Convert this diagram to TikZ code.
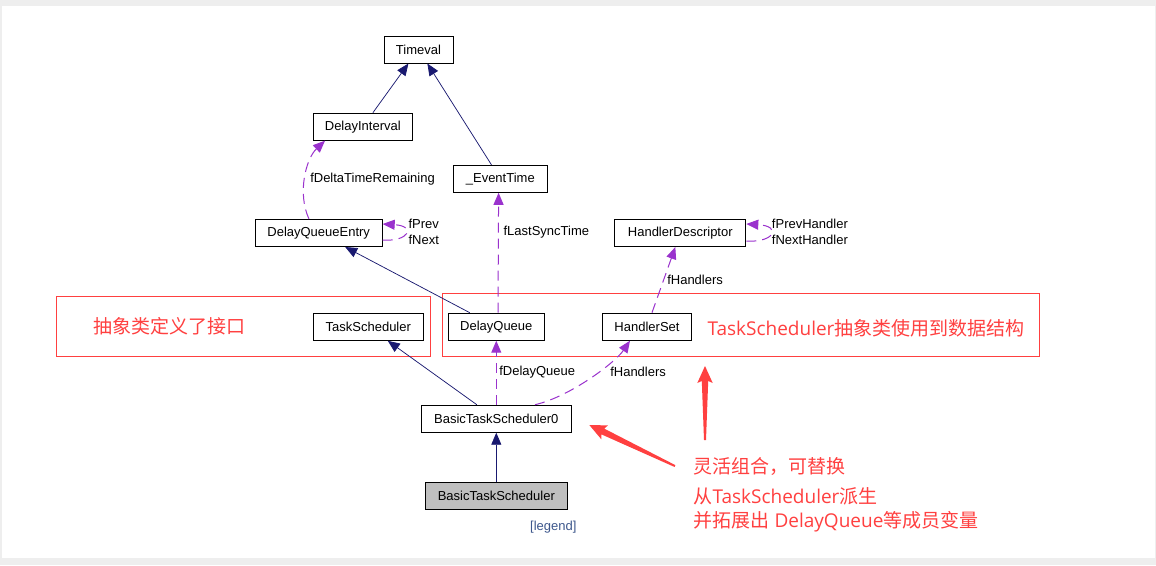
\documentclass[tikz,border=0pt]{standalone}
\usepackage{fontspec}
\setmainfont{Liberation Sans}
\newfontfamily\cjk{Noto Sans CJK SC}
\newfontfamily\latn{Open Sans}
\usetikzlibrary{arrows.meta,calc}
\definecolor{navy}{HTML}{191970}
\definecolor{orchid}{HTML}{9A32CD}
\definecolor{notered}{HTML}{FF4040}
\definecolor{legendc}{HTML}{3D578C}
\definecolor{bgc}{HTML}{EEEEEE}
\newdimen\pxu \pxu=0.75pt

\begin{document}
\begin{tikzpicture}
	[x=0.75pt, y=-0.75pt, font=\fontsize{9.75}{12}\selectfont,
	block/.style={rectangle, draw=black, line width=0.75pt, fill=white, minimum height=27\pxu, inner sep=0pt},
	wd/.style={minimum width=#1\pxu},
	base/.style={draw=navy, line width=0.55pt, -{Triangle[length=9pt, width=7.5pt]}},
	member/.style={draw=orchid, line width=0.75pt, dash pattern=on 7.5pt off 4.5pt, -{Triangle[length=9pt, width=7.5pt]}},
	lbl/.style={anchor=west, inner sep=0pt, align=left},
	note/.style={anchor=west, inner sep=0pt, text=notered, font=\fontsize{14.25}{17}\selectfont},
	frame/.style={draw=notered, line width=0.75pt}];
	\useasboundingbox (0,0) rectangle (1156,565);
	\fill[bgc] (0,0) rectangle (1156,565);
	\fill[white] (2,6) rectangle (1155,558);
	\draw[frame] (56.7,296.7) rectangle (430.3,356);
	\draw[frame] (442.3,293.5) rectangle (1039.3,356.3);

	\node[block, wd=69] (timeval) at (418.5,49.5) {Timeval};
	\node[block, wd=99] (delayinterval) at (362.8,126.7) {DelayInterval};
	\node[block, wd=94] (eventtime) at (500.3,178.8) {\_EventTime};
	\node[block, wd=127] (delayqueueentry) at (318.7,233) {DelayQueueEntry};
	\node[block, wd=131] (handlerdescriptor) at (680.3,233) {HandlerDescriptor};
	\node[block, wd=110] (taskscheduler) at (368.3,326.8) {TaskScheduler};
	\node[block, wd=96] (delayqueue) at (496.3,326.7) {DelayQueue};
	\node[block, wd=89.5] (handlerset) at (647,326.7) {HandlerSet};
	\node[block, wd=150] (basictaskscheduler0) at (496.3,418.7) {BasicTaskScheduler0};
	\node[block, wd=142, fill=gray!50] (basictaskscheduler) at (496.3,496.2) {BasicTaskScheduler};
	\node[text=legendc] (legend) at (553.3,526.7) {[legend]};

	\draw[base] (delayinterval) -- (timeval);
	\draw[base] (eventtime) -- (timeval);
	\draw[base] (delayqueue) -- (delayqueueentry);
	\draw[base] (basictaskscheduler0) -- (taskscheduler);
	\draw[base] (basictaskscheduler) -- (basictaskscheduler0);

	\draw[member] ($(delayqueueentry.north)+(-9.7,0)$) .. controls +(-12,-26) and +(-19,18) .. ($(delayinterval.south)+(-37.8,0)$);
	\draw[member] ($(delayqueueentry.east)+(0,7)$) .. controls +(26,2) and +(34,2) .. ($(delayqueueentry.east)+(0,-9)$);
	\draw[member] ($(handlerdescriptor.east)+(0,8)$) .. controls +(28,2) and +(36,2) .. ($(handlerdescriptor.east)+(0,-9)$);
	\draw[member] ($(delayqueue.north)+(1.7,0)$) -- ($(eventtime.south)+(-1.7,0)$);
	\draw[member] (basictaskscheduler0) -- (delayqueue);
	\draw[member] ($(basictaskscheduler0.north)+(38.7,0)$) .. controls +(35,-8) and +(-15,22) .. ($(handlerset.south)+(-17,0)$);
	\draw[member] (handlerset) -- (handlerdescriptor);

	\node[lbl] (deltalabel) at (310,179) {fDeltaTimeRemaining};
	\node[lbl] (prevnext) at (408.3,232) {fPrev\\fNext};
	\node[lbl] (prevnexthandler) at (771.7,232.2) {fPrevHandler\\fNextHandler};
	\node[lbl] (synclabel) at (503.3,232.3) {fLastSyncTime};
	\node[lbl] (handlerslabel) at (667,280) {fHandlers};
	\node[lbl] (queuelabel) at (499,372.3) {fDelayQueue};
	\node[lbl] (setlabel) at (610,372) {fHandlers};

	\node[note] (ifacenote) at (93.3,326.7) {\cjk 抽象类定义了接口};
	\node[note] (datanote) at (707.3,328.3) {\latn TaskScheduler\cjk 抽象类使用到数据结构};
	\node[note] (combnote) at (693.3,466.7) {\cjk 灵活组合，可替换};
	\node[note] (derivenote) at (693.3,496) {\cjk 从\latn TaskScheduler\cjk 派生};
	\node[note] (extendnote) at (693.3,521.7) {\cjk 并拓展出\latn\ DelayQueue\cjk 等成员变量};

	\fill[notered, shift={(705,366)}, rotate=-90] (0,0) -- (17,-7.7) -- (15,-3.2) -- (74,-1) -- (74,1) -- (15,3.2) -- (17,7.7) -- cycle;
	\fill[notered, shift={(589.3,425)}, rotate=-25.6] (0,0) -- (17,-7.7) -- (15,-3.2) -- (95,-1) -- (95,1) -- (15,3.2) -- (17,7.7) -- cycle;
\end{tikzpicture}
\end{document}
